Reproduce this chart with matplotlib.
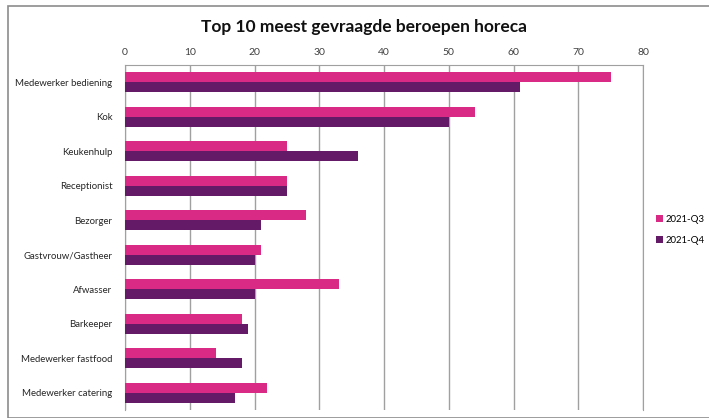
import matplotlib.pyplot as plt
import numpy as np
from matplotlib.patches import Rectangle

# data
beroepen = ['Medewerker bediening', 'Kok', 'Keukenhulp', 'Receptionist', 'Bezorger',
            'Gastvrouw/Gastheer', 'Afwasser', 'Barkeeper', 'Medewerker fastfood',
            'Medewerker catering']
q3 = [75, 54, 25, 25, 28, 21, 33, 18, 14, 22]
q4 = [61, 50, 36, 25, 21, 20, 20, 19, 18, 17]
series_names = ['2021-Q3', '2021-Q4']
xticks = [0, 10, 20, 30, 40, 50, 60, 70, 80]

plt.rcParams['font.family'] = ['Lato', 'DejaVu Sans']

fig = plt.figure(figsize=(7.09, 4.18), dpi=100)
ax = fig.add_axes([125/709, 8/418, 518/709, 345/418])

# outer chart frame
fig.patches.append(Rectangle((8/709, 0), 1.0, 412/418, transform=fig.transFigure,
                             fill=False, edgecolor='#8c8c8c', linewidth=1.2))

y = np.arange(len(beroepen))
h = 0.29
ax.barh(y - h/2, q3, height=h, color='#d92b85', label=series_names[0], zorder=3)
ax.barh(y + h/2, q4, height=h, color='#641a66', label=series_names[1], zorder=3)

ax.set_xlim(0, 80)
ax.set_ylim(len(beroepen) - 0.5, -0.5)
ax.set_xticks(xticks)
ax.xaxis.tick_top()
ax.tick_params(axis='x', length=0, pad=6, labelsize=7.5, colors='#404040')
ax.tick_params(axis='y', length=0, pad=9, labelsize=6.9, colors='#262626')
ax.set_yticks(y)
ax.set_yticklabels(beroepen)
ax.grid(axis='x', color='#a0a0a0', linewidth=1, zorder=0)
for s in ax.spines.values():
    s.set_color('#a0a0a0')
ax.spines['bottom'].set_visible(False)

fig.text(364/709, 1 - 27/418, 'Top 10 meest gevraagde beroepen horeca',
         ha='center', va='center', fontsize=12.5, fontweight='bold', color='#111111')

fig.legend(loc='center left', bbox_to_anchor=(656/709, 1 - 230/418), frameon=False,
           fontsize=6.9, handlelength=0.75, handleheight=0.75, handletextpad=0.25,
           labelspacing=1.2, borderaxespad=0, borderpad=0)

fig.savefig('out.png', dpi=100)
